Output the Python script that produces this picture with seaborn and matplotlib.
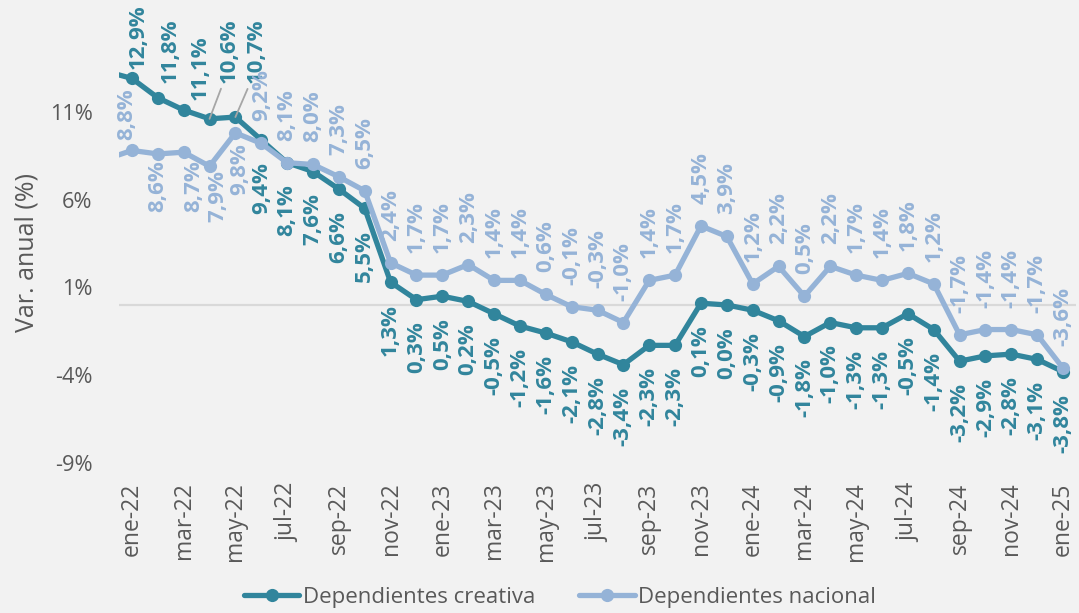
import numpy as np
import pandas as pd
import seaborn as sns
import matplotlib.pyplot as plt
from matplotlib.lines import Line2D

# etiquetas del eje x (cada dos meses)
meses_ticks = ['ene-22', 'mar-22', 'may-22', 'jul-22', 'sep-22', 'nov-22',
               'ene-23', 'mar-23', 'may-23', 'jul-23', 'sep-23', 'nov-23',
               'ene-24', 'mar-24', 'may-24', 'jul-24', 'sep-24', 'nov-24', 'ene-25']

# variación anual (%), ene-22 a ene-25
creativa = [12.9, 11.8, 11.1, 10.6, 10.7, 9.4, 8.1, 7.6, 6.6, 5.5, 1.3, 0.3,
            0.5, 0.2, -0.5, -1.2, -1.6, -2.1, -2.8, -3.4, -2.3, -2.3, 0.1, 0.0,
            -0.3, -0.9, -1.8, -1.0, -1.3, -1.3, -0.5, -1.4, -3.2, -2.9, -2.8, -3.1,
            -3.8]
nacional = [8.8, 8.6, 8.7, 7.9, 9.8, 9.2, 8.1, 8.0, 7.3, 6.5, 2.4, 1.7,
            1.7, 2.3, 1.4, 1.4, 0.6, -0.1, -0.3, -1.0, 1.4, 1.7, 4.5, 3.9,
            1.2, 2.2, 0.5, 2.2, 1.7, 1.4, 1.8, 1.2, -1.7, -1.4, -1.4, -1.7,
            -3.6]
# dic-21, fuera del área visible (solo se ve el tramo de entrada)
dic21_creativa = 13.3
dic21_nacional = 8.3

series = ['Dependientes creativa', 'Dependientes nacional']
colores = ['#31859C', '#95B3D7']

n = len(creativa)
x = np.arange(-1, n)
df = pd.DataFrame({
    'mes': np.concatenate([x, x]),
    'valor': [dic21_creativa] + creativa + [dic21_nacional] + nacional,
    'serie': [series[0]] * (n + 1) + [series[1]] * (n + 1),
})

sns.set_style('white', {'axes.facecolor': '#F2F2F2', 'figure.facecolor': '#F2F2F2'})
plt.rcParams['font.family'] = ['Open Sans', 'DejaVu Sans']
gris = '#595959'

fig = plt.figure(figsize=(10.79, 6.13), dpi=100)
ax = fig.add_axes([119 / 1079, 1 - 463 / 613, (1076 - 119) / 1079, (463 - 24) / 613])

ax.axhline(0, color='#D9D9D9', lw=1.6, zorder=1)
sns.lineplot(data=df, x='mes', y='valor', hue='serie', hue_order=series, palette=colores,
             marker='o', markersize=9.5, markeredgewidth=0, linewidth=3.8,
             sort=False, legend=False, ax=ax, zorder=3)

ax.set_xlim(-0.5, n - 0.5)
ax.set_ylim(-9, 16)
ax.set_yticks([-9, -4, 1, 6, 11])
ax.set_yticklabels([f'{t}%' for t in [-9, -4, 1, 6, 11]])
ax.set_xticks(np.arange(0, n, 2))
ax.set_xticklabels(meses_ticks, rotation=90)
ax.tick_params(axis='y', length=0, pad=19, labelsize=15.7, labelcolor=gris)
ax.tick_params(axis='x', length=0, pad=14, labelsize=16.5, labelcolor=gris)
ax.set_xlabel('')
ax.set_ylabel('')
for s in ax.spines.values():
    s.set_visible(False)
fig.text(27 / 1079, 1 - 253 / 613, 'Var. anual (%)', rotation=90, ha='center', va='center',
         fontsize=18, color=gris)


def fmt(v):
    return f'{v:.1f}'.replace('.', ',') + '%'


# desplazamientos especiales de etiquetas (px): (dx, dy)
off_creativa = {0: (6, 9), 1: (12, 15), 2: (17, 10), 3: (20, 36), 4: (21, 34)}
off_nacional = {0: (-5, 10), 1: (0, -6), 2: (10, -8), 3: (8, -4), 4: (4, -10)}
con_guia = [3, 4]

for i, v in enumerate(creativa):
    dx, dy = off_creativa.get(i, (0, -22))
    va = 'bottom' if dy > 0 else 'top'
    props = None
    if i in con_guia:
        props = dict(arrowstyle='-', color='#A6A6A6', lw=1.3, shrinkA=2, shrinkB=0,
                     relpos=(0.2, 0))
    ax.annotate(fmt(v), (i, v), xytext=(dx, dy), textcoords='offset pixels', rotation=90,
                ha='center', va=va, fontsize=16, fontweight='bold', color=colores[0],
                arrowprops=props, annotation_clip=False, zorder=4)

for i, v in enumerate(nacional):
    dx, dy = off_nacional.get(i, (0, 22))
    va = 'bottom' if dy > 0 else 'top'
    ax.annotate(fmt(v), (i, v), xytext=(dx, dy), textcoords='offset pixels', rotation=90,
                ha='center', va=va, fontsize=16, fontweight='bold', color=colores[1],
                annotation_clip=False, zorder=4)

handles = [Line2D([], [], color=c, lw=3.8, marker='o', markersize=9.5, markeredgewidth=0)
           for c in colores]
fig.legend(handles, series, loc='center', bbox_to_anchor=(0.519, 0.026), ncol=2,
           frameon=False, fontsize=16, labelcolor=gris, handlelength=2.5,
           handletextpad=0.15, columnspacing=2.0)

plt.savefig('out.png', dpi=100, facecolor=fig.get_facecolor())
